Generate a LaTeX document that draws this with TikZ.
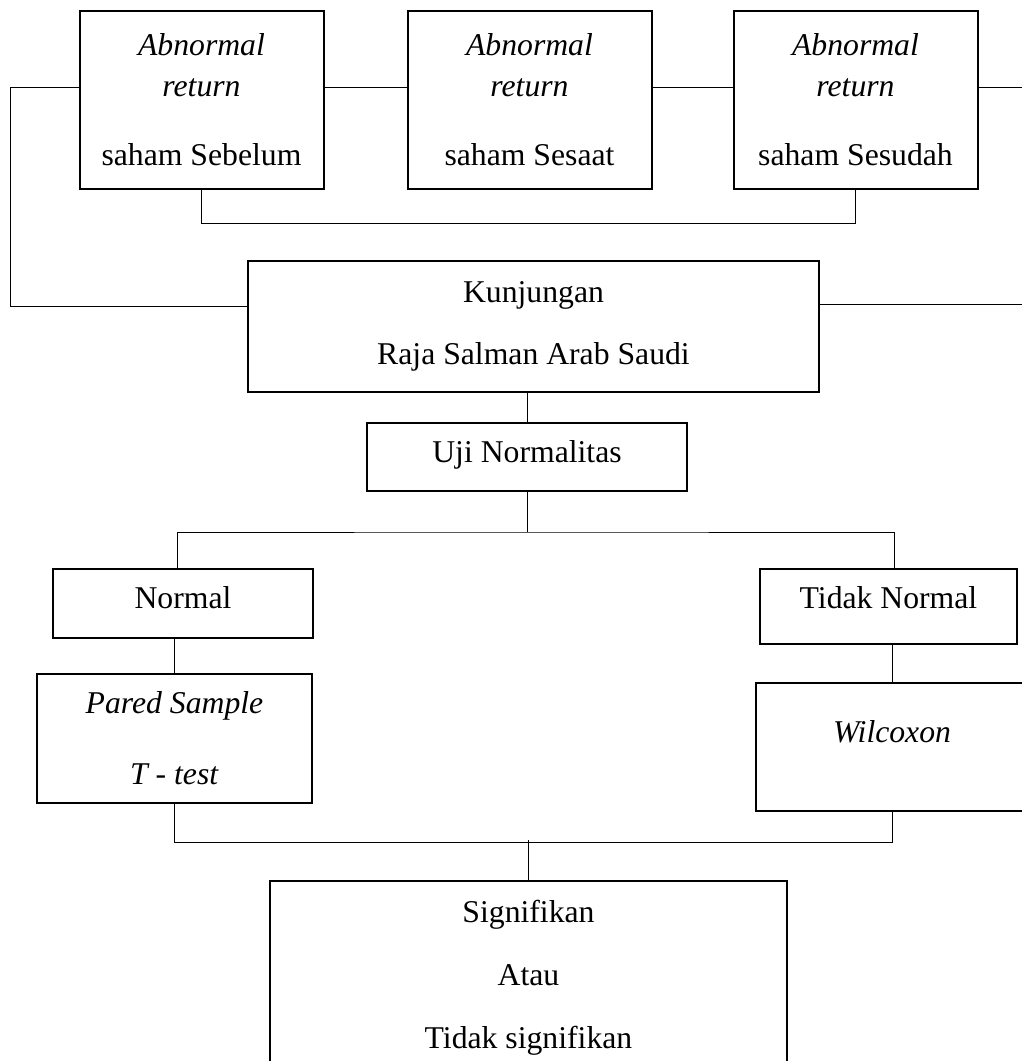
\documentclass[tikz,border=0pt]{standalone}
\usepackage{fontspec}
\setmainfont{Liberation Serif}
\usetikzlibrary{positioning}
\tikzset{box/.style={draw, line width=2pt, inner sep=0pt, align=center,
		font=\fontsize{31.7}{41}\selectfont},
	onebox/.style={box, text height=22pt, text depth=#1},
	conn/.style={line width=1pt}}

\begin{document}
\begin{tikzpicture}[x=1pt, y=-1pt]
		\useasboundingbox (0,0) rectangle (1022,1061);
		\clip (0,0) rectangle (1022,1061);
		% abnormal return
		\foreach \nm/\x/\wkt in {seb/201.5/Sebelum, ssa/529.5/Sesaat, ssu/855.5/Sesudah}{
		  \node[box, minimum width=244pt, minimum height=178pt] (\nm) at (\x,100)
		    {\textit{Abnormal}\\ \textit{return}\\[28pt] saham \wkt};
		}
		\node[box, minimum width=571pt, minimum height=131pt] (kunj) at (533.5,326.5)
		  {Kunjungan\\[21pt] Raja Salman Arab Saudi};
		\node[onebox=12pt, minimum width=320pt, minimum height=68pt] (uji) at (527,457) {Uji Normalitas};
		\node[onebox=13pt, minimum width=260pt, minimum height=69pt] (nrm) at (183,603.5) {Normal};
		\node[onebox=19pt, minimum width=257pt, minimum height=75pt] (tnrm) at (888.5,606.5) {Tidak Normal};
		\node[box, minimum width=275pt, minimum height=129pt] (pared) at (174.5,738.5)
		  {\textit{Pared Sample}\\[30pt] \textit{T - test}};
		\node[onebox=32pt, minimum width=272pt, minimum height=128pt] (wilc) at (892,747) {\textit{Wilcoxon}};
		\node[box, minimum width=517pt, minimum height=193pt] (sig) at (528.5,977.5)
		  {Signifikan\\[22pt] Atau\\[22pt] Tidak signifikan};
		\coordinate (kiri) at (10,306);
		\coordinate (kanan1) at (1022,87);
		\coordinate (kanan2) at (1022,304);

		\draw[conn] ([yshift=13pt]seb.east) -- ([yshift=13pt]ssa.west);
		\draw[conn] ([yshift=13pt]ssa.east) -- ([yshift=13pt]ssu.west);
		\draw[conn] ([yshift=13pt]ssu.east) -- (kanan1);
		\draw[conn] (seb.south) -- ++(0,33) -| (ssu.south);
		\draw[conn] ([yshift=13pt]seb.west) -| (kiri) -- ([yshift=20.5pt]kunj.west);
		\draw[conn] ([yshift=22.5pt]kunj.east) -- (kanan2);
		\draw[conn] (uji.north |- kunj.south) -- (uji.north);
		\draw[conn] (uji.south) -- ++(0,40) coordinate (cabang);
		\draw[conn] ([xshift=-6pt]nrm.north) |- (cabang) -| ([xshift=6pt]tnrm.north);
		\draw[conn] (pared.north) -- (pared.north |- nrm.south);
		\draw[conn] (wilc.north) -- (wilc.north |- tnrm.south);
		\draw[conn] (pared.south) -- ++(0,38) -| (wilc.south);
		\draw[conn] (sig.north) -- ++(0,-40);
	\end{tikzpicture}
\end{document}
